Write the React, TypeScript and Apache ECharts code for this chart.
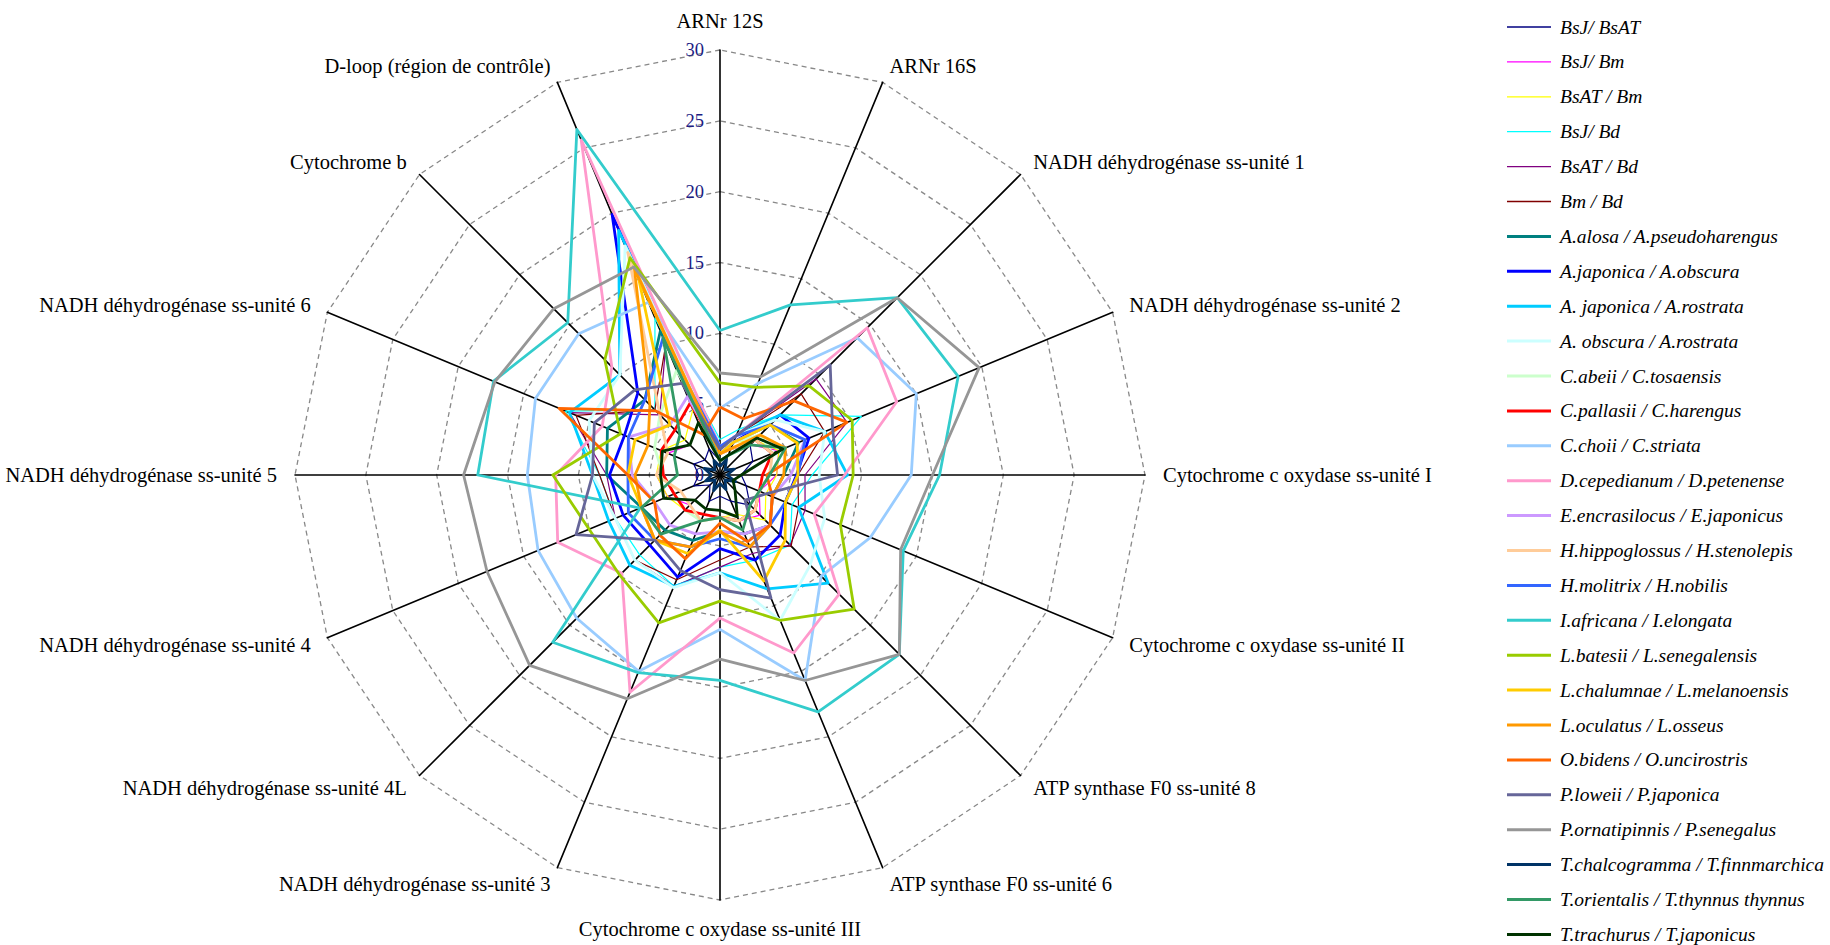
import React, { useEffect, useRef } from "react";
import * as echarts from "echarts";

const AXES = [
  "ARNr 12S",
  "ARNr 16S",
  "NADH déhydrogénase ss-unité 1",
  "NADH déhydrogénase ss-unité 2",
  "Cytochrome c oxydase ss-unité I",
  "Cytochrome c oxydase ss-unité II",
  "ATP synthase F0 ss-unité 8",
  "ATP synthase F0 ss-unité 6",
  "Cytochrome c oxydase ss-unité III",
  "NADH déhydrogénase ss-unité 3",
  "NADH déhydrogénase ss-unité 4L",
  "NADH déhydrogénase ss-unité 4",
  "NADH déhydrogénase ss-unité 5",
  "NADH déhydrogénase ss-unité 6",
  "Cytochrome b",
  "D-loop (région de contrôle)",
];

const TICKS = [0, 5, 10, 15, 20, 25, 30];

const NAMES = [
  "BsJ/ BsAT",
  "BsJ/ Bm",
  "BsAT / Bm",
  "BsJ/ Bd",
  "BsAT / Bd",
  "Bm / Bd",
  "A.alosa / A.pseudoharengus",
  "A.japonica / A.obscura",
  "A. japonica / A.rostrata",
  "A. obscura / A.rostrata",
  "C.abeii / C.tosaensis",
  "C.pallasii / C.harengus",
  "C.choii / C.striata",
  "D.cepedianum / D.petenense",
  "E.encrasilocus / E.japonicus",
  "H.hippoglossus / H.stenolepis",
  "H.molitrix / H.nobilis",
  "I.africana / I.elongata",
  "L.batesii / L.senegalensis",
  "L.chalumnae / L.melanoensis",
  "L.oculatus / L.osseus",
  "O.bidens / O.uncirostris",
  "P.loweii / P.japonica",
  "P.ornatipinnis / P.senegalus",
  "T.chalcogramma / T.finnmarchica",
  "T.orientalis / T.thynnus thynnus",
  "T.trachurus / T.japonicus",
];

const COLORS = [
  "#000080", "#FF00FF", "#FFFF00", "#00FFFF", "#800080", "#800000",
  "#008080", "#0000FF", "#00CCFF", "#CCFFFF", "#CCFFCC", "#FF0000",
  "#99CCFF", "#FF99CC", "#CC99FF", "#FFCC99", "#3366FF", "#33CCCC",
  "#99CC00", "#FFCC00", "#FF9900", "#FF6600", "#666699", "#969696",
  "#003366", "#339966", "#003300",
];

// values per axis, in AXES order (clockwise from ARNr 12S)
const BSJ_BSAT = [1, 1.5, 3, 2.5, 1.5, 2, 3, 2, 1.5, 2, 1, 2, 1.5, 2, 1.5, 2];
const BSJ_BM = [1.5, 2, 3, 4.5, 4, 3, 4, 3.5, 3, 3.5, 3, 4, 4.5, 4, 3, 4];
const BSAT_BM = [1.5, 2.5, 3.5, 4.5, 4, 3.5, 4.5, 3, 3, 3.5, 3.5, 4, 4.5, 4.5, 3.5, 5];
const BSJ_BD = [2.5, 3.5, 6, 10.8, 6.5, 5.5, 7, 6.5, 6.5, 8.5, 8, 8, 8.5, 11.8, 6.5, 12];
const BSAT_BD = [2, 3, 9.6, 9.7, 6, 6.5, 7, 6, 6.5, 8.5, 8.5, 8, 8, 11.5, 6, 10];
const BM_BD = [2, 3, 8.1, 8, 5.5, 6, 7.1, 5.5, 6, 8, 8.5, 8, 8.5, 11, 6.5, 10];
const A_ALOSA = [2, 2.5, 5, 6, 4.5, 4, 5, 4.5, 4, 5, 5.5, 6, 8, 8.6, 7.5, 11];
const A_JAP_OBS = [1.5, 2.5, 6, 6.8, 5.4, 5, 6, 6.5, 5.2, 7.8, 7, 7.4, 7.8, 7.3, 8.2, 19.9];
const A_JAP_ROS = [2, 3, 6, 8, 9, 6, 10.8, 8.7, 6.9, 8.5, 9, 8.5, 9, 11.5, 10, 18.7];
const A_OBS_ROS = [2, 3, 5.5, 8, 7, 8, 9, 11.1, 6.9, 8.6, 8.5, 8, 9, 10, 10, 17.5];
const C_ABEII = [2, 2.5, 4, 4, 3.5, 3, 3.5, 3.5, 3, 3.5, 3.5, 3.5, 4, 5, 6, 8];
const C_PALLASII = [1.5, 2, 3.5, 4, 3, 3, 3.5, 3.5, 3, 3, 3.5, 3.5, 4, 4.5, 4.5, 5.5];
const C_CHOII = [4.7, 7, 13.7, 15, 13.5, 11.5, 10.1, 15.7, 10.9, 15, 14.3, 13.9, 13.6, 14.1, 14.1, 13.2];
const D_CEPEDIANUM = [2, 3, 14.7, 13.5, 8.8, 7.2, 11.9, 13.6, 10.1, 16.6, 9.8, 12.4, 11.6, 9, 10.8, 25.6];
const E_ENCRASILOCUS = [1.5, 2.5, 5, 6.5, 5, 4, 5, 4.5, 4, 4.5, 5, 5, 6.2, 7, 5, 6];
const H_HIPPOGLOSSUS = [1.5, 2, 3.5, 4, 3.5, 3, 3.5, 3.5, 3, 3.5, 3, 3, 4.5, 4, 6, 17];
const H_MOLITRIX = [2, 3, 5, 6.5, 5.5, 5, 5, 5.5, 4.5, 5.5, 6.5, 7, 6.5, 7, 7.5, 10.5];
const I_AFRICANA = [10.2, 13, 17.7, 18.2, 15.5, 14, 17.9, 18.1, 14.5, 15.1, 16.7, 6.1, 17.1, 17.3, 15.2, 26.4];
const L_BATESII = [6.5, 6.7, 8.9, 10.1, 9.4, 9.2, 13.4, 11.1, 8.9, 11.3, 10, 10, 11.8, 7.6, 11.5, 16.6];
const L_CHALUMNAE = [1.5, 2.5, 5, 5.9, 5.5, 5, 6.5, 8.1, 3.9, 6, 6.5, 6, 6.5, 6.5, 5, 15];
const L_OCULATUS = [1.5, 2, 4, 5, 4.5, 4, 5, 5.5, 4, 5.5, 6.5, 6, 6, 5.5, 7, 15.8];
const O_BIDENS = [4.8, 4.3, 7.4, 9.7, 3.3, 4, 5, 5.1, 3.4, 6.4, 6, 5, 6.5, 12.3, 6.4, 3.1];
const P_LOWEII = [1.8, 3, 11, 8.6, 8.3, 3.5, 2.5, 9.4, 8.1, 7.3, 6.5, 11, 9, 9.6, 8.5, 7];
const P_ORNATIPINNIS = [7.2, 7.5, 17.7, 19.8, 15, 13.8, 17.9, 15.7, 13, 17.1, 19, 17.8, 18.1, 17.2, 16.6, 15.9];
const T_CHALCOGRAMMA = [0.6, 1.2, 0.5, 1.1, 0.5, 1.2, 0.5, 1.1, 0.6, 1.2, 0.5, 1.1, 0.6, 1.2, 0.5, 1.1];
const T_ORIENTALIS = [1, 1.5, 3, 5, 3.5, 3, 3, 4.2, 3, 3.5, 5.9, 6, 3, 3.5, 4, 10.5];
const T_TRACHURUS = [1, 1.5, 3.7, 4.8, 1.5, 1, 1.5, 3.2, 2.5, 2.6, 2.5, 4.3, 4.2, 4.4, 3, 4];

const SERIES_VALUES = [
  BSJ_BSAT, BSJ_BM, BSAT_BM, BSJ_BD, BSAT_BD, BM_BD,
  A_ALOSA, A_JAP_OBS, A_JAP_ROS, A_OBS_ROS, C_ABEII, C_PALLASII,
  C_CHOII, D_CEPEDIANUM, E_ENCRASILOCUS, H_HIPPOGLOSSUS, H_MOLITRIX, I_AFRICANA,
  L_BATESII, L_CHALUMNAE, L_OCULATUS, O_BIDENS, P_LOWEII, P_ORNATIPINNIS,
  T_CHALCOGRAMMA, T_ORIENTALIS, T_TRACHURUS,
];

const THIN_COUNT = 6;
const SERIF = "'Liberation Serif', 'Times New Roman', serif";

// ECharts radar runs counter-clockwise; reorder so the axes run clockwise.
function clockwise<T>(arr: T[]): T[] {
  return [arr[0], ...arr.slice(1).reverse()];
}

export default function App() {
  const ref = useRef<HTMLDivElement>(null);

  useEffect(() => {
    if (!ref.current) return;
    const chart = echarts.init(ref.current, undefined, { renderer: "svg" });
    const CENTER = [720, 475];
    const RADIUS = 425;
    const maxV = TICKS[TICKS.length - 1];
    const topName = AXES[0];
    const bottomName = AXES[8];

    const data = NAMES.map((name, i) => {
      const thin = i < THIN_COUNT;
      return {
        name,
        value: clockwise(SERIES_VALUES[i]),
        symbol: "none",
        itemStyle: { color: COLORS[i] },
        lineStyle: { color: COLORS[i], width: thin ? 1.2 : 2.8, type: "solid" },
      };
    });

    const nameFont = { fontFamily: SERIF, fontSize: 20.5, color: "#000" };

    chart.setOption({
      animation: false,
      backgroundColor: "#ffffff",
      legend: {
        orient: "vertical",
        left: 1507,
        top: 17,
        height: 928,
        padding: 0,
        itemWidth: 44,
        itemHeight: 14,
        itemGap: 14.9,
        selectedMode: false,
        data: NAMES.map((name, i) => ({
          name,
          icon: i < THIN_COUNT ? "path://M0,0L44,0L44,1.3L0,1.3Z" : "path://M0,0L44,0L44,3L0,3Z",
        })),
        textStyle: {
          fontFamily: SERIF,
          fontStyle: "italic",
          fontSize: 19.5,
          lineHeight: 20,
          padding: [0, 0, 0, 4],
          color: "#000",
        },
      },
      radar: {
        center: CENTER,
        radius: RADIUS,
        startAngle: 90,
        shape: "polygon",
        splitNumber: TICKS.length - 1,
        indicator: clockwise(AXES).map((name) => ({ name, min: 0, max: maxV })),
        nameGap: 18,
        axisName: {
          ...nameFont,
          verticalAlign: "middle",
          formatter: (name: string) =>
            name === topName ? `{t|${name}}` : name === bottomName ? `{b|${name}}` : name,
          rich: {
            t: { ...nameFont, padding: [0, 0, 22, 0] },
            b: { ...nameFont, padding: [22, 0, 0, 0] },
          },
        },
        axisLine: { show: true, lineStyle: { color: "#000", width: 1.6 } },
        axisTick: { show: false },
        axisLabel: { show: false },
        splitLine: { show: true, lineStyle: { color: "#888", width: 1.3, type: [5, 4] } },
        splitArea: { show: false },
      },
      polar: { center: CENTER, radius: RADIUS },
      angleAxis: { type: "value", startAngle: 90, min: 0, max: 360, show: false },
      radiusAxis: {
        type: "value",
        min: 0,
        max: maxV,
        interval: 5,
        axisLine: { show: false },
        axisTick: { show: false },
        splitLine: { show: false },
        axisLabel: {
          show: true,
          margin: 16,
          color: "#1c1c84",
          fontFamily: SERIF,
          fontSize: 18.5,
        },
      },
      series: [
        {
          type: "radar",
          symbol: "none",
          data,
        },
      ],
    });

    return () => chart.dispose();
  }, []);

  return (
    <div
      ref={ref}
      style={{ position: "fixed", left: 0, top: 0, width: 1830, height: 945, background: "#fff" }}
    />
  );
}
